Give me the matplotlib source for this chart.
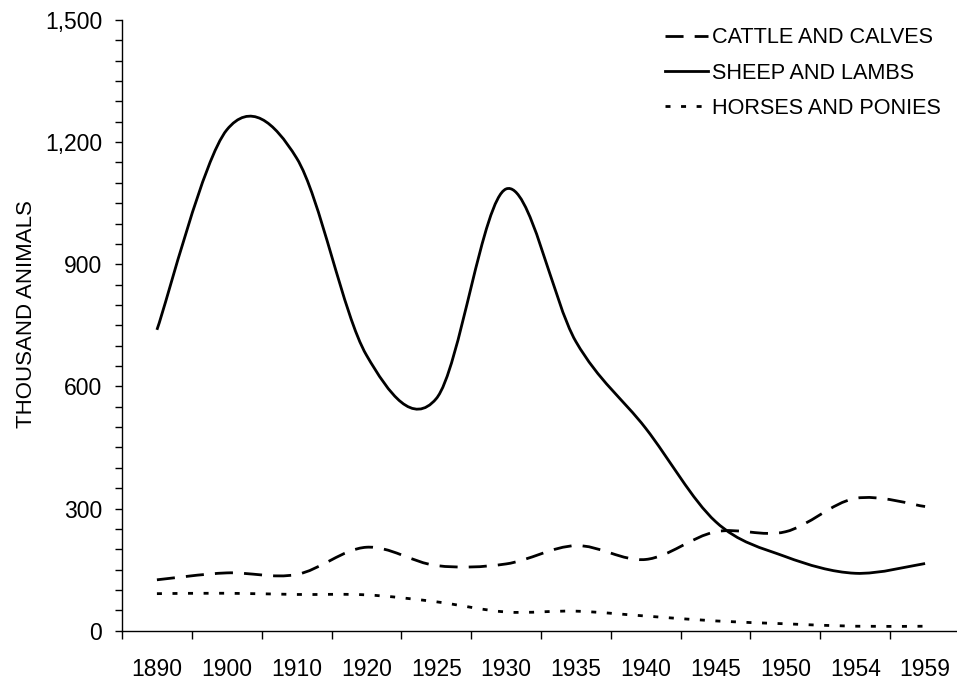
import numpy as np
import matplotlib
matplotlib.use('Agg')
import matplotlib.pyplot as plt
from matplotlib.path import Path
from matplotlib.patches import PathPatch
from matplotlib.lines import Line2D
from matplotlib.ticker import MultipleLocator, FuncFormatter

plt.rcParams['font.family'] = ['Liberation Sans', 'DejaVu Sans']

# data (thousand animals)
years = ['1890', '1900', '1910', '1920', '1925', '1930',
         '1935', '1940', '1945', '1950', '1954', '1959']
cattle = [125, 142, 138, 205, 160, 164, 209, 175, 243, 243, 325, 305]
sheep = [739, 1230, 1161, 677, 570, 1085, 710, 497, 268, 182, 141, 165]
horses = [91, 92, 89, 88, 71, 46, 48, 36, 24, 17, 11, 11]

FONT = 16.5
LEG_FONT = 15.6
LW = 2.0
CATTLE_DASH = (0, (6.5, 4.0))
HORSE_DASH = (0, (1.8, 3.8))


def smooth_path(xs, ys):
    # excel-like smoothed line: catmull-rom turned into cubic bezier segments
    pts = np.column_stack([xs, ys]).astype(float)
    n = len(pts)
    verts = [pts[0]]
    codes = [Path.MOVETO]
    for i in range(n - 1):
        p0 = pts[max(i - 1, 0)]
        p1 = pts[i]
        p2 = pts[i + 1]
        p3 = pts[min(i + 2, n - 1)]
        verts += [p1 + (p2 - p0) / 6.0, p2 - (p3 - p1) / 6.0, p2]
        codes += [Path.CURVE4] * 3
    return Path(verts, codes)


fig = plt.figure(figsize=(9.57, 6.83), dpi=100)
ax = fig.add_axes([122 / 957, 52.3 / 683, 838 / 957, 610.7 / 683])

x = np.arange(len(years))
for vals, ls in [(cattle, CATTLE_DASH), (sheep, '-'), (horses, HORSE_DASH)]:
    patch = PathPatch(smooth_path(x, vals), fill=False, edgecolor='black',
                      linewidth=LW, linestyle=ls, capstyle='butt')
    ax.add_patch(patch)

ax.set_xlim(-0.5, len(years) - 0.5)
ax.set_ylim(0, 1500)

for s in ['top', 'right']:
    ax.spines[s].set_visible(False)
for s in ['left', 'bottom']:
    ax.spines[s].set_linewidth(1.0)

# category axis: ticks between the categories, labels centred on them
ax.set_xticks(np.arange(-0.5, len(years) - 1, 1))
ax.set_xticklabels([])
ax.set_xticks(x, minor=True)
ax.set_xticklabels(years, minor=True, fontsize=FONT)
ax.tick_params(axis='x', which='major', direction='out', length=5.5, width=1.0)
ax.tick_params(axis='x', which='minor', length=0, pad=19.5)

ax.yaxis.set_major_locator(MultipleLocator(300))
ax.yaxis.set_minor_locator(MultipleLocator(50))
ax.yaxis.set_major_formatter(FuncFormatter(lambda v, p: f'{int(v):,}'))
ax.tick_params(axis='y', which='both', direction='out', length=5.0, width=1.0)
ax.tick_params(axis='y', which='major', labelsize=FONT, pad=9.4)

ax.set_ylabel('THOUSAND ANIMALS', fontsize=16)
ax.yaxis.set_label_coords(-0.102, 0.519)

handles = [
    Line2D([], [], color='black', lw=LW, linestyle=CATTLE_DASH),
    Line2D([], [], color='black', lw=LW, linestyle='-'),
    Line2D([], [], color='black', lw=LW, linestyle=HORSE_DASH),
]
labels = ['CATTLE AND CALVES', 'SHEEP AND LAMBS', 'HORSES AND PONIES']
fig.legend(handles, labels, loc='upper left',
           bbox_to_anchor=(665 / 957, 1 - 27.4 / 683),
           frameon=False, fontsize=LEG_FONT, borderpad=0, borderaxespad=0,
           handlelength=1.98, handletextpad=0.18, labelspacing=0.66)

fig.savefig('out.png', dpi=100)
